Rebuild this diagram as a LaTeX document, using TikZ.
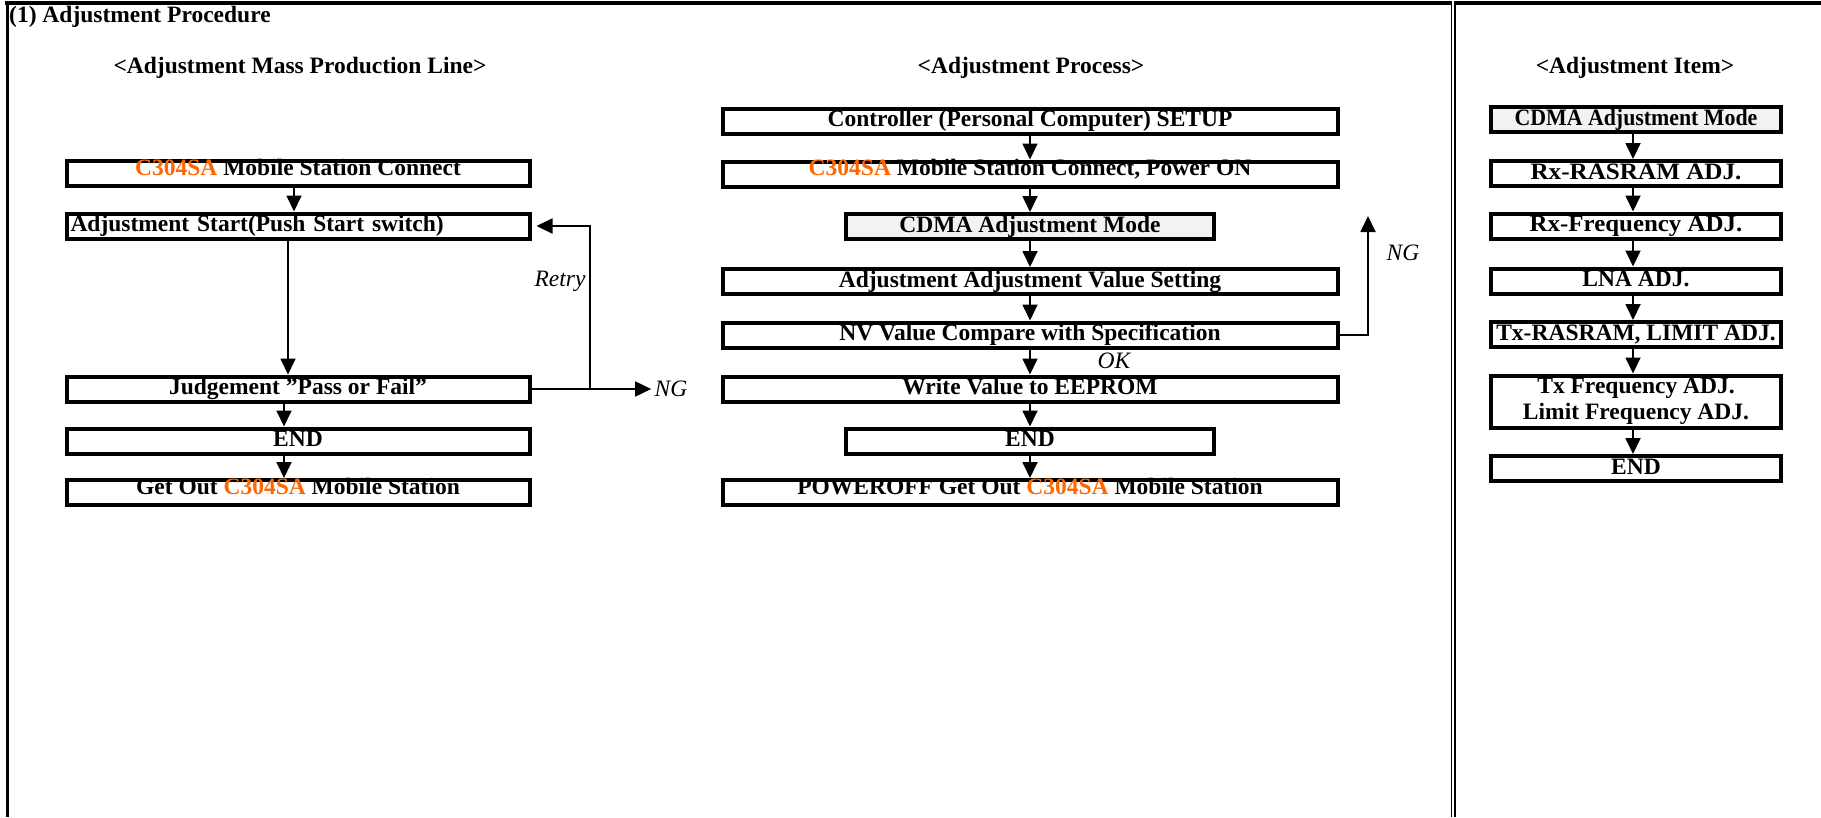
\documentclass[tikz,border=0pt]{standalone}
\usepackage{fontspec}
\setmainfont{Liberation Serif}
\usetikzlibrary{arrows.meta,positioning}
\definecolor{handset}{HTML}{FF6600}
\definecolor{modegray}{HTML}{F2F2F2}
\newcommand{\stationid}{\textcolor{handset}{C304SA}}
\newcommand{\lift}[1]{\raisebox{4pt}{#1}}
\newcommand{\xscl}[2]{\scalebox{#1}[1]{#2}}

\begin{document}
\begin{tikzpicture}[x=1pt,y=-1pt,
  every node/.style={font=\fontsize{23.5}{26}\selectfont\bfseries},
  stepbox/.style={draw,line width=4pt,inner sep=0pt,minimum height=25pt,
    text height=16pt,text depth=5pt},
  lbox/.style={stepbox,minimum width=463pt},
  wbox/.style={stepbox,minimum width=615pt},
  nbox/.style={stepbox,minimum width=368pt},
  ibox/.style={stepbox,minimum width=290pt},
  modebox/.style={fill=modegray},
  flow/.style={line width=1.8pt,-{Triangle[length=16pt,width=15pt]}},
  link/.style={line width=1.8pt},
  tag/.style={font=\fontsize{23.5}{26}\selectfont\itshape}]
  \useasboundingbox (0,0) rectangle (1821,817);

  % Frame
  \draw[line width=4pt] (5,3) -- (1821,3);
  \draw[line width=3pt] (7,1) -- (7,817);
  \draw[line width=1.5pt,double,double distance=2pt] (1453,1) -- (1453,817);
  \node[anchor=west,inner sep=0pt] (title) at (9,17) {(1) Adjustment Procedure};

  % Headings
  \node (hline) at (300,68) {<Adjustment Mass Production Line>};
  \node (hproc) at (1031,68) {<Adjustment Process>};
  \node (hitem) at (1635,68) {<Adjustment Item>};

  % Mass production line
  \node[lbox] (conn) at (298,173.5) {\lift{\stationid\ Mobile Station Connect}};
  \node[lbox,text width=455pt,inner xsep=4pt,align=left] (start) at (298,226) {Adjustment Start(Push Start switch)};
  \node[lbox] (judge) at (298,389) {Judgement ''Pass or Fail''};
  \node[lbox] (lend) at (298,441) {END};
  \node[lbox] (out) at (298,492.5) {\lift{Get Out \stationid\ Mobile Station}};

  \draw[flow] ([xshift=-4pt]conn.south) -- ([xshift=-4pt]start.north);
  \draw[flow] ([xshift=-10pt]start.south) -- ([xshift=-10pt]judge.north);
  \draw[flow] ([xshift=-14pt]judge.south) -- ([xshift=-14pt]lend.north);
  \draw[flow] ([xshift=-14pt]lend.south) -- ([xshift=-14pt]out.north);

  % Retry / NG
  \coordinate (split) at (590,389);
  \node[tag] (ngl) at (671,389) {NG};
  \node[tag] (retry) at (560,281) {Retry};
  \draw[link] (judge.east) -- (split);
  \draw[flow] (split) |- ([xshift=5pt]start.east);
  \draw[flow] (split) -- (ngl.west);

  % Adjustment process
  \node[wbox] (setup) at (1030,121) {Controller (Personal Computer) SETUP};
  \node[wbox] (power) at (1030,174) {\lift{\stationid\ Mobile Station Connect, Power ON}};
  \node[nbox,modebox] (mode) at (1030,226.5) {CDMA Adjustment Mode};
  \node[wbox] (value) at (1030,281.5) {Adjustment Adjustment Value Setting};
  \node[wbox] (nvcmp) at (1030,335) {NV Value Compare with Specification};
  \node[wbox] (write) at (1030,389) {Write Value to EEPROM};
  \node[nbox] (pend) at (1030,441) {END};
  \node[wbox] (poff) at (1030,492.5) {\lift{POWEROFF Get Out \stationid\ Mobile Station}};

  \draw[flow] (setup) -- (power);
  \draw[flow] (power) -- (mode);
  \draw[flow] (mode) -- (value);
  \draw[flow] (value) -- (nvcmp);
  \draw[flow] (nvcmp) -- (write);
  \draw[flow] (write) -- (pend);
  \draw[flow] (pend) -- (poff);

  \coordinate (ngtop) at (1368,216);
  \draw[flow] (nvcmp.east) -| (ngtop);
  \node[tag] (ngm) at (1403,253) {NG};
  \node[tag] (ok) at (1114,361) {OK};

  % Adjustment items
  \node[ibox,modebox] (imode) at (1636,119.5) {\xscl{0.93}{CDMA Adjustment Mode}};
  \node[ibox] (rxras) at (1636,173.5) {\xscl{1.07}{Rx-RASRAM ADJ.}};
  \node[ibox] (rxfrq) at (1636,226) {\xscl{1.06}{Rx-Frequency ADJ.}};
  \node[ibox] (lna) at (1636,281) {LNA ADJ.};
  \node[ibox] (txras) at (1636,334.5) {Tx-RASRAM, LIMIT ADJ.};
  \node[ibox,minimum height=52pt,text height=,text depth=,align=center] (txfrq) at (1636,401.5) {Tx Frequency ADJ.\\Limit Frequency ADJ.};
  \node[ibox] (iend) at (1636,468.5) {END};

  \foreach \a/\b in {imode/rxras,rxras/rxfrq,rxfrq/lna,lna/txras,txras/txfrq,txfrq/iend}
    \draw[flow] ([xshift=-3pt]\a.south) -- ([xshift=-3pt]\b.north);
\end{tikzpicture}
\end{document}
